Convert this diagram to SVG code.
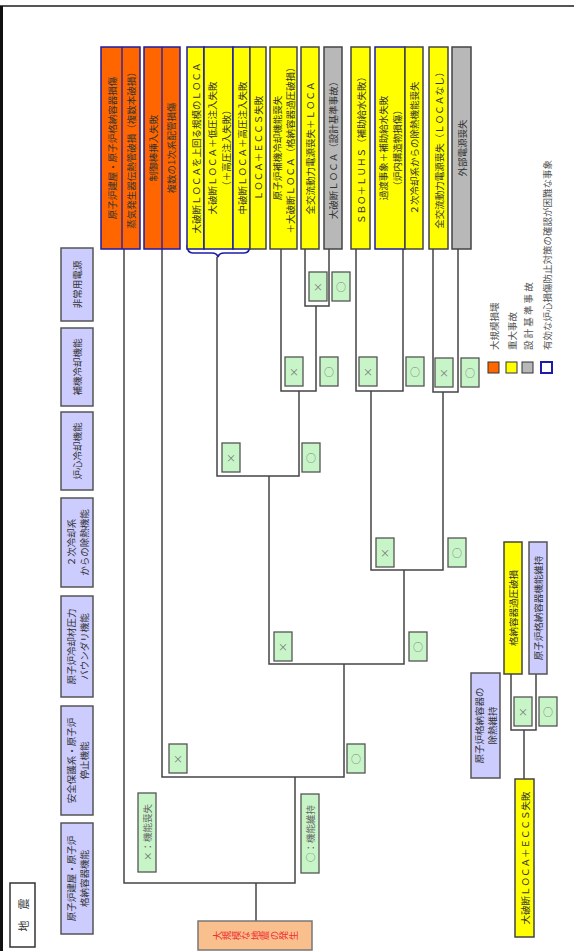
<svg xmlns="http://www.w3.org/2000/svg" width="574" height="951" viewBox="0 0 574 951">
<style>
text{font-family:"Noto Sans CJK JP","Noto Sans",sans-serif;fill:#333;dominant-baseline:central;text-anchor:middle}
.hd{fill:#ccccff;stroke:#555;stroke-width:1.5}
.or{fill:#ff6600;stroke:#1c1ca8;stroke-width:1.5}
.ye{fill:#ffff00;stroke:#444;stroke-width:1.5}
.yb{fill:#ffff00;stroke:#1c1ca8;stroke-width:1.5}
.gy{fill:#b8b8b8;stroke:#444;stroke-width:1.5}
.gr{fill:#c8f5c8;stroke:#555;stroke-width:1.3}
.gt{font-size:10px;fill:#777}
.t10{font-size:9.5px}
.ln{fill:none;stroke:#444;stroke-width:1.5}
.dv{stroke:#1c1ca8;stroke-width:1.3}
</style>
<defs>
<g id="xb"><rect class="gr" x="0" y="0" width="18" height="29"/><text class="gt" x="9" y="14.5">×</text></g>
<g id="ob"><rect class="gr" x="0" y="0" width="18" height="29"/><text class="gt" x="9" y="14.5">○</text></g>
</defs>
<rect x="0" y="0" width="574" height="951" fill="#fff"/>
<g id="frame"><line x1="0" y1="6" x2="574" y2="6" stroke="#555" stroke-width="2"/><line x1="1.5" y1="6" x2="1.5" y2="951" stroke="#111" stroke-width="3"/></g>

<g id="connectors" class="ln">
<path d="M256,921 V883"/>
<path d="M124,249 V883 H295 V777"/>
<path d="M162,249 V777 H344 V664"/>
<path d="M269,476 V664 H404 V570"/>
<path d="M217,257 V476 H299 V391"/>
<path d="M281,249 V391 H316 V306"/>
<path d="M305,249 V306 H329 V249"/>
<path d="M356,249 V391 H403 V249"/>
<path d="M371,391 V570 H443 V392"/>
<path d="M433,249 V392 H458 V249"/>
<path d="M524,779 V730"/>
<path d="M511,674 V730 H536 V674"/>
<path d="M187,245 Q187,253 193,253 H212 Q217,253 218,257 Q219,253 224,253 H244 Q250,253 250,245" stroke="#1c1ca8"/>
</g>

<g id="headings">
<g id="h1"><rect class="hd" x="61" y="248" width="32" height="73"/><text class="t10" transform="translate(77,284.5) rotate(-90)">非常用電源</text></g>
<g id="h2"><rect class="hd" x="61" y="328" width="32" height="78"/><text class="t10" transform="translate(77,367) rotate(-90)">補機冷却機能</text></g>
<g id="h3"><rect class="hd" x="61" y="412" width="32" height="78"/><text class="t10" transform="translate(77,451) rotate(-90)">炉心冷却機能</text></g>
<g id="h4"><rect class="hd" x="61" y="498" width="32" height="89"/><text class="t10" transform="translate(77,542.5) rotate(-90)"><tspan x="0" y="-6.5">２次冷却系</tspan><tspan x="0" y="6.5">からの除熱機能</tspan></text></g>
<g id="h5"><rect class="hd" x="61" y="596" width="32" height="101"/><text class="t10" transform="translate(77,646.5) rotate(-90)"><tspan x="0" y="-6.5">原子炉冷却材圧力</tspan><tspan x="0" y="6.5">バウンダリ機能</tspan></text></g>
<g id="h6"><rect class="hd" x="61" y="706" width="32" height="109"/><text class="t10" transform="translate(77,760.5) rotate(-90)"><tspan x="0" y="-6.5">安全保護系・原子炉</tspan><tspan x="0" y="6.5">停止機能</tspan></text></g>
<g id="h7"><rect class="hd" x="61" y="823" width="32" height="111"/><text class="t10" transform="translate(77,878.5) rotate(-90)"><tspan x="0" y="-6.5">原子炉建屋・原子炉</tspan><tspan x="0" y="6.5">格納容器機能</tspan></text></g>
</g>

<g id="quake"><rect x="10" y="883" width="25" height="64" fill="#fff" stroke="#333" stroke-width="1.5"/><text transform="translate(22.5,915) rotate(-90)" style="font-size:11px">地　震</text></g>
<g id="init"><rect x="198" y="921" width="114" height="29" fill="#f9c08e" stroke="#777" stroke-width="1.5"/><text transform="translate(255,935.5) rotate(-90)" style="font-size:9.5px;fill:#f03030;writing-mode:vertical-rl">大規模な地震の発生</text></g>

<g id="ends">
<g id="e1"><rect class="or" x="101" y="47" width="39" height="202"/><line class="dv" x1="122" y1="47" x2="122" y2="249"/><text class="t10" transform="translate(111.5,148) rotate(-90)">原子炉建屋・原子炉格納容器損傷</text><text class="t10" transform="translate(131,148) rotate(-90)">蒸気発生器伝熱管破損（複数本破損）</text></g>
<g id="e2"><rect class="or" x="144" y="47" width="36" height="202"/><line class="dv" x1="162" y1="47" x2="162" y2="249"/><text class="t10" transform="translate(153,148) rotate(-90)">制御棒挿入失敗</text><text class="t10" transform="translate(171,148) rotate(-90)">複数の1次系配管損傷</text></g>
<g id="eA"><rect class="yb" x="187" y="47" width="17" height="202"/><text class="t10" transform="translate(195.5,148) rotate(-90)">大破断ＬＯＣＡを上回る規模のＬＯＣＡ</text></g>
<g id="eB"><rect class="yb" x="204" y="47" width="29" height="202"/><text class="t10" transform="translate(218.5,148) rotate(-90)"><tspan x="0" y="-7">大破断ＬＯＣＡ＋低圧注入失敗</tspan><tspan x="0" y="7">（＋高圧注入失敗）</tspan></text></g>
<g id="eC"><rect class="yb" x="233" y="47" width="17" height="202"/><text class="t10" transform="translate(241.5,148) rotate(-90)">中破断ＬＯＣＡ＋高圧注入失敗</text></g>
<g id="eD"><rect class="ye" x="250" y="47" width="16" height="202"/><text class="t10" transform="translate(258,148) rotate(-90)">ＬＯＣＡ＋ＥＣＣＳ失敗</text></g>
<g id="eE"><rect class="ye" x="270" y="47" width="27" height="202"/><text class="t10" transform="translate(283.5,148) rotate(-90)"><tspan x="0" y="-6.5">原子炉補機冷却機能喪失</tspan><tspan x="0" y="6.5">＋大破断ＬＯＣＡ（格納容器過圧破損）</tspan></text></g>
<g id="eF"><rect class="ye" x="301" y="47" width="18" height="202"/><text class="t10" transform="translate(310,148) rotate(-90)">全交流動力電源喪失＋ＬＯＣＡ</text></g>
<g id="eG"><rect class="gy" x="324" y="47" width="18" height="202"/><text class="t10" transform="translate(333,148) rotate(-90)">大破断ＬＯＣＡ（設計基準事故）</text></g>
<g id="eH"><rect class="ye" x="351" y="47" width="19" height="202"/><text class="t10" transform="translate(360.5,148) rotate(-90)">ＳＢＯ＋ＬＵＨＳ（補助給水失敗）</text></g>
<g id="eI"><rect class="yb" x="375" y="47" width="30" height="202"/><text class="t10" transform="translate(390,148) rotate(-90)"><tspan x="0" y="-7">過渡事象＋補助給水失敗</tspan><tspan x="0" y="7">（炉内構造物損傷）</tspan></text></g>
<g id="eJ"><rect class="ye" x="405" y="47" width="18" height="202"/><text class="t10" transform="translate(414,148) rotate(-90)">２次冷却系からの除熱機能喪失</text></g>
<g id="eK"><rect class="ye" x="429" y="47" width="19" height="202"/><text class="t10" transform="translate(438.5,148) rotate(-90)">全交流動力電源喪失（ＬＯＣＡなし）</text></g>
<g id="eL"><rect class="gy" x="452" y="47" width="19" height="202"/><text class="t10" transform="translate(461.5,148) rotate(-90)">外部電源喪失</text></g>
</g>

<g id="marks">
<use href="#xb" x="309" y="272"/><use href="#ob" x="332" y="272"/>
<use href="#xb" x="285" y="357"/><use href="#ob" x="320" y="357"/>
<use href="#xb" x="359" y="357"/><use href="#ob" x="406" y="357"/>
<use href="#xb" x="435" y="358"/><use href="#ob" x="461" y="358"/>
<use href="#xb" x="222" y="443"/><use href="#ob" x="302" y="443"/>
<use href="#xb" x="376" y="538"/><use href="#ob" x="448" y="538"/>
<use href="#xb" x="274" y="632"/><use href="#ob" x="409" y="632"/>
<use href="#xb" x="169" y="744"/><use href="#ob" x="347" y="744"/>
<use href="#xb" x="514" y="697"/><use href="#ob" x="539" y="697"/>
<g id="lgx"><rect class="gr" x="138" y="793" width="18" height="79"/><text class="t10" style="fill:#666" transform="translate(147,832.5) rotate(-90)">×：機能喪失</text></g>
<g id="lgo"><rect class="gr" x="301" y="794" width="18" height="79"/><text class="t10" style="fill:#666" transform="translate(310,833.5) rotate(-90)">○：機能維持</text></g>
</g>

<g id="cv">
<g id="cvh"><rect class="hd" x="471" y="673" width="29" height="105"/><text class="t10" transform="translate(485.5,725.5) rotate(-90)"><tspan x="0" y="-6.5">原子炉格納容器の</tspan><tspan x="0" y="6.5">除熱維持</tspan></text></g>
<g id="cvy"><rect class="ye" x="504" y="542" width="18" height="132"/><text class="t10" transform="translate(513,608) rotate(-90)">格納容器過圧破損</text></g>
<g id="cvl"><rect class="hd" x="529" y="542" width="18" height="132"/><text class="t10" transform="translate(538,608) rotate(-90)">原子炉格納容器機能維持</text></g>
<g id="cvs"><rect class="ye" x="515" y="779" width="19" height="158"/><text class="t10" transform="translate(524.5,858) rotate(-90)">大破断ＬＯＣＡ＋ＥＣＣＳ失敗</text></g>
</g>

<g id="legend">
<rect x="488" y="362" width="11" height="11" fill="#ff6600" stroke="#333"/>
<rect x="506" y="362" width="11" height="11" fill="#ffff00" stroke="#333"/>
<rect x="522" y="362" width="11" height="11" fill="#b8b8b8" stroke="#333"/>
<rect x="541" y="362" width="11" height="11" fill="#fff" stroke="#1c1ca8" stroke-width="2"/>
<text class="t10" style="text-anchor:start;fill:#555" transform="translate(493.5,350) rotate(-90)">大規模損壊</text>
<text class="t10" style="text-anchor:start;fill:#555" transform="translate(511.5,350) rotate(-90)">重大事故</text>
<text class="t10" style="text-anchor:start;fill:#555" transform="translate(527.5,350) rotate(-90)">設 計 基 準 事 故</text>
<text class="t10" style="text-anchor:start;fill:#555" transform="translate(546.5,350) rotate(-90)">有効な炉心損傷防止対策の確認が困難な事象</text>
</g>
</svg>
